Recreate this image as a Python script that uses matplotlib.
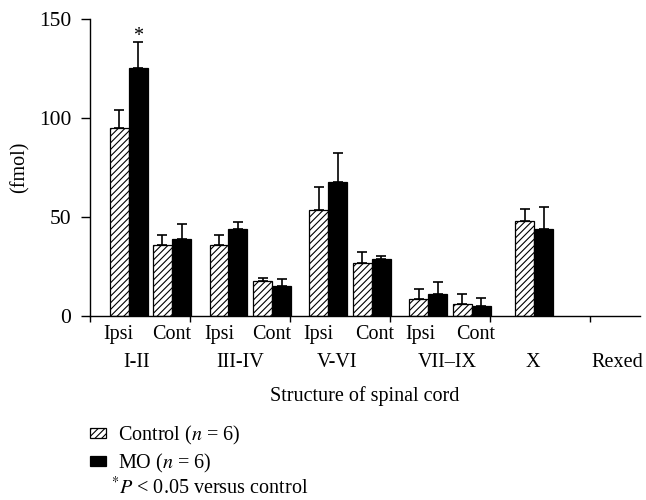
import matplotlib
matplotlib.use('Agg')
import matplotlib.pyplot as plt
import numpy as np

plt.rcParams['font.family'] = ['Liberation Serif', 'DejaVu Serif']
plt.rcParams['mathtext.fontset'] = 'stix'
plt.rcParams['hatch.linewidth'] = 0.8

groups = ['I-II', 'III-IV', 'V-VI', 'VII\u2013IX', 'X', 'Rexed']
sides = ['Ipsi', 'Cont']

# values per group: ipsi control, ipsi MO, cont control, cont MO (fmol)
control_ipsi = [95, 36, 53.5, 8.8]
control_ipsi_err = [9, 5, 11.5, 5]
mo_ipsi = [125, 44, 67.7, 11.3]
mo_ipsi_err = [13.5, 3.5, 14.6, 5.9]
control_cont = [36, 17.5, 26.6, 6.2]
control_cont_err = [5, 1.5, 5.7, 4.9]
mo_cont = [39, 15.3, 29, 5]
mo_cont_err = [7.5, 3.2, 1.5, 4]
control_x, control_x_err = 47.8, 6
mo_x, mo_x_err = 43.8, 11

fs = 14.5

fig = plt.figure(figsize=(6.46, 5), dpi=100)
ax = fig.add_axes([90/646, 1-316/500, 550/646, 297/500])

w = 0.19
g = np.arange(4)
hatch_kw = dict(color='white', edgecolor='black', hatch='/////', linewidth=0.9)
solid_kw = dict(color='black', edgecolor='black', linewidth=0.9)
err_kw = dict(ecolor='black', elinewidth=1.2, capsize=3.6, capthick=1.2)

def bars(x, vals, errs, kw):
    vals = np.atleast_1d(vals)
    errs = np.atleast_1d(errs)
    return ax.bar(x, vals, w, yerr=[np.zeros_like(errs), errs], error_kw=err_kw, **kw)

h1 = bars(g + 0.29, control_ipsi, control_ipsi_err, hatch_kw)
h2 = bars(g + 0.48, mo_ipsi, mo_ipsi_err, solid_kw)
bars(g + 0.725, control_cont, control_cont_err, hatch_kw)
bars(g + 0.915, mo_cont, mo_cont_err, solid_kw)
bars(4 + 0.345, control_x, control_x_err, hatch_kw)
bars(4 + 0.535, mo_x, mo_x_err, solid_kw)

# significance mark above the I-II ipsi MO bar
ax.text(0.48, mo_ipsi[0] + mo_ipsi_err[0] - 2, '*', ha='center', va='bottom', fontsize=fs)

ax.set_xlim(0, 5.5)
ax.set_ylim(0, 150)
ax.set_yticks([0, 50, 100, 150])
ax.set_xticks(np.arange(6))
ax.set_xticklabels([])
ax.spines['top'].set_visible(False)
ax.spines['right'].set_visible(False)
ax.spines['left'].set_linewidth(1)
ax.spines['bottom'].set_linewidth(1)
ax.tick_params(axis='y', direction='out', length=6.5, width=1, labelsize=15.5, pad=7)
ax.tick_params(axis='x', direction='out', length=4.3, width=1)
ax.set_ylabel('(fmol)', fontsize=fs)
ax.yaxis.set_label_coords(-0.11, 0.5)

tr = ax.get_xaxis_transform()
sub_x = [0.28, 0.82, 1.29, 1.82, 2.28, 2.85, 3.30, 3.86]
for i, xx in enumerate(sub_x):
    ax.text(xx, -0.062, sides[i % 2], transform=tr, ha='center', va='center', fontsize=fs)
group_x = [0.47, 1.5, 2.47, 3.57, 4.43, 5.27]
for xx, lab in zip(group_x, groups):
    ax.text(xx, -0.157, lab, transform=tr, ha='center', va='center', fontsize=fs)
ax.text(0.5, -0.268, 'Structure of spinal cord', transform=ax.transAxes,
        ha='center', va='center', fontsize=fs)

fig.legend([h1, h2], ['Control ($n$ = 6)', 'MO ($n$ = 6)'], loc='upper left',
           bbox_to_anchor=(90/646, 1-424/500), frameon=False, fontsize=fs,
           handlelength=0.8, handleheight=0.4, handletextpad=0.6, labelspacing=0.25,
           borderaxespad=0, borderpad=0)
fig.text(111/646, 1-488/500, r'$^{*}$$P$ < 0.05 versus control', ha='left', va='center', fontsize=fs)

fig.savefig('out.png', dpi=100)
